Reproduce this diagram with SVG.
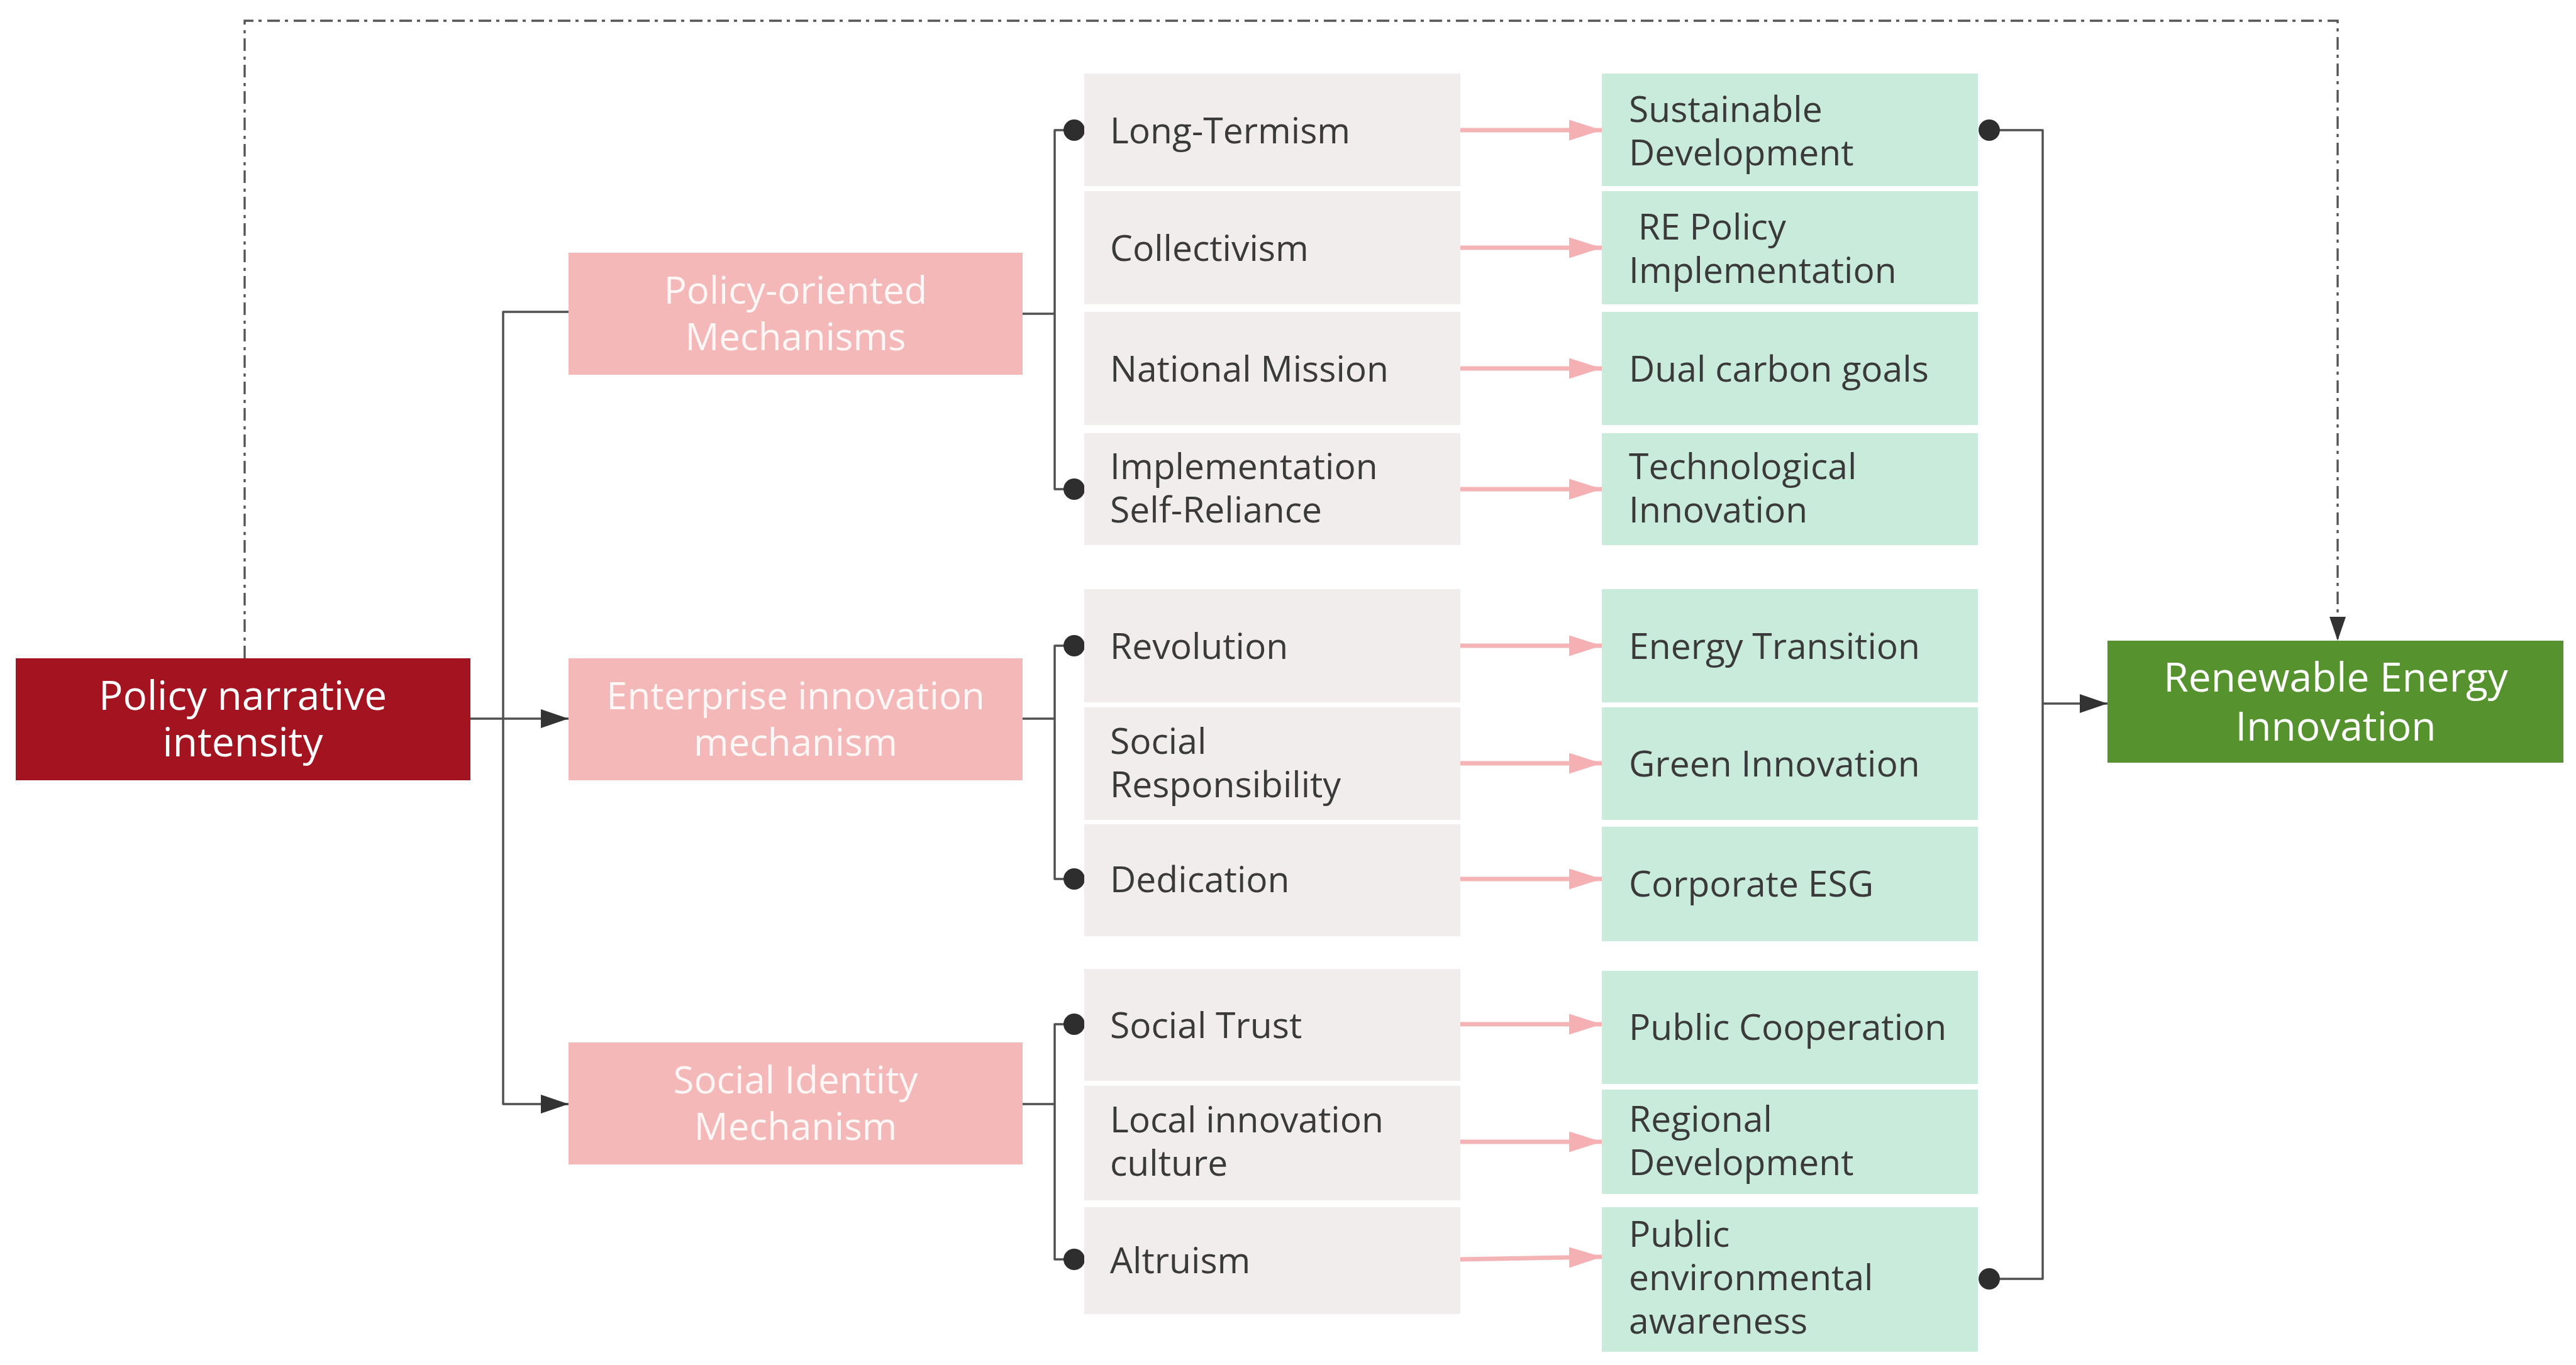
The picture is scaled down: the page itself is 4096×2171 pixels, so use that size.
<svg xmlns="http://www.w3.org/2000/svg" width="4096" height="2171" viewBox="0 0 4096 2171">
<defs>
<style>
.t{font-family:"Open Sans","Noto Sans","Liberation Sans",sans-serif;}
.dk{fill:#3a3a3a;font-size:57px;}
.wh{fill:#ffffff;font-size:64px;text-anchor:middle;}
.pk{fill:#fff6f6;font-size:60px;text-anchor:middle;}
.gray{fill:#f1edec;}
.green{fill:#c9ebdc;}
.pinkbox{fill:#f4b8b8;}
.conn{fill:none;stroke:#505050;stroke-width:3.5;stroke-linejoin:round;}
.pa{fill:none;stroke:#f4b4b6;stroke-width:7;}
.dash{fill:none;stroke:#555555;stroke-width:3.4;stroke-dasharray:20 8 5 9;}
</style>
<marker id="ah" markerUnits="userSpaceOnUse" markerWidth="44" markerHeight="30" refX="44" refY="15" orient="auto"><path d="M0,0 L44,15 L0,30 z" fill="#333333"/></marker>
<marker id="ahd" markerUnits="userSpaceOnUse" markerWidth="38" markerHeight="26" refX="38" refY="13" orient="auto"><path d="M0,0 L38,13 L0,26 z" fill="#333333"/></marker>
<marker id="ahp" markerUnits="userSpaceOnUse" markerWidth="52" markerHeight="33" refX="52" refY="16.5" orient="auto"><path d="M0,0 L52,16.5 L0,33 z" fill="#f4b0b2"/></marker>
</defs>
<rect width="4096" height="2171" fill="#ffffff"/>

<g id="connectors">
<path class="dash" d="M389,1047 L389,33 L3717,33 L3717,1019" marker-end="url(#ahd)"/>
<path class="conn" d="M748,1143 L904,1143" marker-end="url(#ah)"/>
<path class="conn" d="M904,496 L800,496 L800,1756 L904,1756" marker-end="url(#ah)"/>
<path class="conn" d="M1626,499 L1677,499"/>
<path class="conn" d="M1708,207 L1677,207 L1677,778 L1708,778"/>
<path class="conn" d="M1626,1143 L1677,1143"/>
<path class="conn" d="M1708,1027 L1677,1027 L1677,1398 L1708,1398"/>
<path class="conn" d="M1626,1756 L1677,1756"/>
<path class="conn" d="M1708,1629 L1677,1629 L1677,2003 L1708,2003"/>
<g fill="#2e2e2e">
<circle cx="1708" cy="207" r="17"/><circle cx="1708" cy="778" r="17"/>
<circle cx="1708" cy="1027" r="17"/><circle cx="1708" cy="1398" r="17"/>
<circle cx="1708" cy="1629" r="17"/><circle cx="1708" cy="2003" r="17"/>
</g>
<path class="conn" d="M3163,207 L3248,207 L3248,2034 L3163,2034"/>
<path class="conn" d="M3248,1119 L3351,1119" marker-end="url(#ah)"/>
<g fill="#2e2e2e"><circle cx="3163" cy="207" r="17"/><circle cx="3163" cy="2034" r="17"/></g>
<path class="pa" d="M2322,207 L2547,207" marker-end="url(#ahp)"/>
<path class="pa" d="M2322,394 L2547,394" marker-end="url(#ahp)"/>
<path class="pa" d="M2322,586 L2547,586" marker-end="url(#ahp)"/>
<path class="pa" d="M2322,778 L2547,778" marker-end="url(#ahp)"/>
<path class="pa" d="M2322,1027 L2547,1027" marker-end="url(#ahp)"/>
<path class="pa" d="M2322,1214 L2547,1214" marker-end="url(#ahp)"/>
<path class="pa" d="M2322,1398 L2547,1398" marker-end="url(#ahp)"/>
<path class="pa" d="M2322,1629 L2547,1629" marker-end="url(#ahp)"/>
<path class="pa" d="M2322,1816 L2547,1816" marker-end="url(#ahp)"/>
<path class="pa" d="M2322,2003 L2547,1999" marker-end="url(#ahp)"/>
</g>

<g id="policy-narrative"><rect x="25" y="1047" width="723" height="194" fill="#a41320"/>
<text class="t wh"><tspan x="386" y="1129">Policy narrative</tspan><tspan x="386" y="1203">intensity</tspan></text></g>

<g id="policy-oriented"><rect class="pinkbox" x="904" y="402" width="722" height="194"/>
<text class="t pk"><tspan x="1265" y="483">Policy-oriented</tspan><tspan x="1265" y="557">Mechanisms</tspan></text></g>
<g id="enterprise"><rect class="pinkbox" x="904" y="1047" width="722" height="194"/>
<text class="t pk"><tspan x="1265" y="1128">Enterprise innovation</tspan><tspan x="1265" y="1202">mechanism</tspan></text></g>
<g id="social-identity"><rect class="pinkbox" x="904" y="1658" width="722" height="194"/>
<text class="t pk"><tspan x="1265" y="1739">Social Identity</tspan><tspan x="1265" y="1813">Mechanism</tspan></text></g>

<g id="long-termism"><rect class="gray" x="1724" y="117" width="598" height="179"/><text class="t dk" x="1765" y="228">Long-Termism</text></g>
<g id="collectivism"><rect class="gray" x="1724" y="304" width="598" height="180"/><text class="t dk" x="1765" y="415">Collectivism</text></g>
<g id="national-mission"><rect class="gray" x="1724" y="496" width="598" height="180"/><text class="t dk" x="1765" y="607">National Mission</text></g>
<g id="implementation"><rect class="gray" x="1724" y="689" width="598" height="178"/><text class="t dk"><tspan x="1765" y="762">Implementation</tspan><tspan x="1765" y="831">Self-Reliance</tspan></text></g>
<g id="revolution"><rect class="gray" x="1724" y="937" width="598" height="180"/><text class="t dk" x="1765" y="1048">Revolution</text></g>
<g id="social-responsibility"><rect class="gray" x="1724" y="1125" width="598" height="179"/><text class="t dk"><tspan x="1765" y="1199">Social</tspan><tspan x="1765" y="1268">Responsibility</tspan></text></g>
<g id="dedication"><rect class="gray" x="1724" y="1311" width="598" height="178"/><text class="t dk" x="1765" y="1419">Dedication</text></g>
<g id="social-trust"><rect class="gray" x="1724" y="1541" width="598" height="178"/><text class="t dk" x="1765" y="1651">Social Trust</text></g>
<g id="local-innovation"><rect class="gray" x="1724" y="1727" width="598" height="182"/><text class="t dk"><tspan x="1765" y="1801">Local innovation</tspan><tspan x="1765" y="1870">culture</tspan></text></g>
<g id="altruism"><rect class="gray" x="1724" y="1920" width="598" height="170"/><text class="t dk" x="1765" y="2025">Altruism</text></g>

<g id="sustainable"><rect class="green" x="2547" y="117" width="598" height="179"/><text class="t dk"><tspan x="2590" y="194">Sustainable</tspan><tspan x="2590" y="263">Development</tspan></text></g>
<g id="re-policy"><rect class="green" x="2547" y="304" width="598" height="180"/><text class="t dk" xml:space="preserve"><tspan x="2590" y="381"> RE Policy</tspan><tspan x="2590" y="450">Implementation</tspan></text></g>
<g id="dual-carbon"><rect class="green" x="2547" y="496" width="598" height="180"/><text class="t dk" x="2590" y="607">Dual carbon goals</text></g>
<g id="technological"><rect class="green" x="2547" y="689" width="598" height="178"/><text class="t dk"><tspan x="2590" y="762">Technological</tspan><tspan x="2590" y="831">Innovation</tspan></text></g>
<g id="energy-transition"><rect class="green" x="2547" y="937" width="598" height="180"/><text class="t dk" x="2590" y="1048">Energy Transition</text></g>
<g id="green-innovation"><rect class="green" x="2547" y="1125" width="598" height="179"/><text class="t dk" x="2590" y="1235">Green Innovation</text></g>
<g id="corporate-esg"><rect class="green" x="2547" y="1315" width="598" height="182"/><text class="t dk" x="2590" y="1426">Corporate ESG</text></g>
<g id="public-cooperation"><rect class="green" x="2547" y="1544" width="598" height="180"/><text class="t dk" x="2590" y="1654">Public Cooperation</text></g>
<g id="regional"><rect class="green" x="2547" y="1733" width="598" height="166"/><text class="t dk"><tspan x="2590" y="1800">Regional</tspan><tspan x="2590" y="1869">Development</tspan></text></g>
<g id="public-env"><rect class="green" x="2547" y="1920" width="598" height="230"/><text class="t dk"><tspan x="2590" y="1983">Public</tspan><tspan x="2590" y="2052">environmental</tspan><tspan x="2590" y="2121">awareness</tspan></text></g>

<g id="renewable"><rect x="3351" y="1019" width="725" height="194" fill="#56932f"/>
<text class="t wh"><tspan x="3714" y="1100">Renewable Energy</tspan><tspan x="3714" y="1178">Innovation</tspan></text></g>
</svg>
